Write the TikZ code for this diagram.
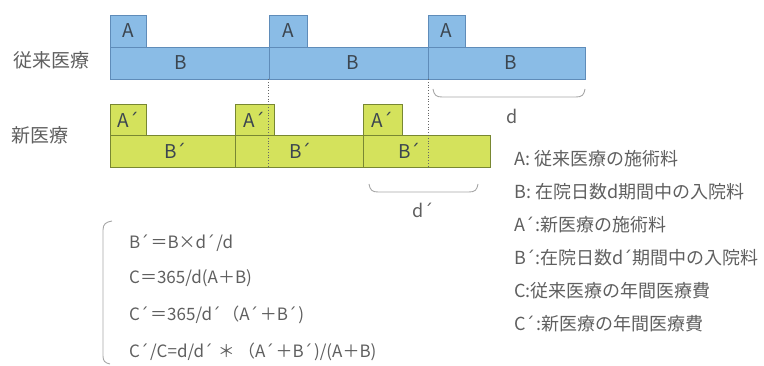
\documentclass[tikz,border=0pt]{standalone}
\usepackage{fontspec}
\setmainfont{Noto Sans CJK JP}
\newfontfamily\prf{DejaVu Sans}
\definecolor{bfill}{RGB}{138,188,230}
\definecolor{bdraw}{RGB}{95,140,185}
\definecolor{gfill}{RGB}{212,226,92}
\definecolor{gdraw}{RGB}{120,135,50}
\definecolor{txt}{RGB}{95,95,95}
\definecolor{boxtxt}{RGB}{60,70,80}
\newcommand\pr{{\prf ´}}
\newcommand\prs{{\prf ´}\hspace{0.1em}}
\begin{document}
\begin{tikzpicture}[x=1pt,y=-1pt,
  bluebox/.style={draw=bdraw,fill=bfill,line width=0.8pt,anchor=north west,inner sep=0pt,outer sep=0pt},
  greenbox/.style={draw=gdraw,fill=gfill,line width=0.8pt,anchor=north west,inner sep=0pt,outer sep=0pt},
  boxlbl/.style={text=boxtxt,font=\fontsize{19pt}{21pt}\selectfont,inner sep=0pt},
  rowlbl/.style={text=txt,font=\fontsize{19pt}{21pt}\selectfont,inner sep=0pt},
  legend/.style={text=txt,font=\fontsize{18pt}{20pt}\selectfont,anchor=west,inner sep=0pt},
  formula/.style={text=txt,font=\fontsize{17pt}{20pt}\selectfont,anchor=west,inner sep=0pt},
  dotline/.style={draw=gray!80!black,dotted,line width=0.8pt},
  bracel/.style={draw=gray!70,line width=0.9pt}]
\useasboundingbox (0,0) rectangle (764,366);
% blue row
\node[bluebox,minimum width=159pt,minimum height=32pt] (B1) at (110,47) {};
\node[bluebox,minimum width=159pt,minimum height=32pt] (B2) at (269,47) {};
\node[bluebox,minimum width=157pt,minimum height=32pt] (B3) at (428,47) {};
\node[bluebox,minimum width=36pt,minimum height=32pt] (A1) at (110,15) {};
\node[bluebox,minimum width=38pt,minimum height=32pt] (A2) at (269,15) {};
\node[bluebox,minimum width=37pt,minimum height=32pt] (A3) at (428,15) {};
\node[boxlbl] (tA1) at (A1.center) {A};
\node[boxlbl] (tA2) at (A2.center) {A};
\node[boxlbl] (tA3) at (A3.center) {A};
\node[boxlbl] (tB1) at (181,63) {B};
\node[boxlbl] (tB2) at (353,63) {B};
\node[boxlbl] (tB3) at (511,63) {B};
% green row
\node[greenbox,minimum width=125pt,minimum height=32pt] (Bp1) at (110,135) {};
\node[greenbox,minimum width=128pt,minimum height=32pt] (Bp2) at (235,135) {};
\node[greenbox,minimum width=127pt,minimum height=32pt] (Bp3) at (363,135) {};
\node[greenbox,minimum width=36pt,minimum height=31pt] (Ap1) at (110,104) {};
\node[greenbox,minimum width=39pt,minimum height=31pt] (Ap2) at (235,104) {};
\node[greenbox,minimum width=39pt,minimum height=31pt] (Ap3) at (363,104) {};
\node[boxlbl] (tAp1) at (128,120) {A\pr};
\node[boxlbl] (tAp2) at (254,120) {A\pr};
\node[boxlbl] (tAp3) at (382,120) {A\pr};
\node[boxlbl] (tBp1) at (175,151) {B\pr};
\node[boxlbl] (tBp2) at (300,151) {B\pr};
\node[boxlbl] (tBp3) at (409,151) {B\pr};
% dotted lines
\coordinate (d1t) at (268,79); \coordinate (d1b) at (268,167);
\coordinate (d2t) at (428,79); \coordinate (d2b) at (428,167);
\draw[dotline] (d1t) -- (d1b);
\draw[dotline] (d2t) -- (d2b);
% row labels
\node[rowlbl] (lab1) at (51,60) {従来医療};
\node[rowlbl] (lab2) at (40,135) {新医療};
% braces
\coordinate (br1l) at (433,89); \coordinate (br1r) at (585,89);
\draw[bracel] (br1l) .. controls (434,95) and (436,97) .. (442,97) -- (576,97) .. controls (582,97) and (584,95) .. (br1r);
\node[text=txt,font=\fontsize{18pt}{20pt}\selectfont,inner sep=0pt] (dlab) at (512,116) {d};
\coordinate (br2l) at (369,184); \coordinate (br2r) at (478,184);
\draw[bracel] (br2l) .. controls (370,190) and (372,192) .. (378,192) -- (469,192) .. controls (475,192) and (477,190) .. (br2r);
\node[text=txt,font=\fontsize{18pt}{20pt}\selectfont,inner sep=0pt] (dplab) at (423,210) {d\pr};
% legend
\node[legend] (L1) at (514,159) {A: 従来医療の施術料};
\node[legend] (L2) at (514,192) {B: 在院日数d期間中の入院料};
\node[legend] (L3) at (514,225) {A\prs:新医療の施術料};
\node[legend] (L4) at (514,258) {B\pr:在院日数d\pr 期間中の入院料};
\node[legend] (L5) at (514,291) {C:従来医療の年間医療費};
\node[legend] (L6) at (514,324) {C\prs:新医療の年間医療費};
% formula bracket
\coordinate (fbt) at (112,221); \coordinate (fbb) at (110,364);
\draw[bracel] (fbt) .. controls (106,222) and (103,224) .. (103,230) -- (103,356) .. controls (103,361) and (105,363) .. (fbb);
\node[formula] (F1) at (129,243) {B\prs＝B×d\prs/d};
\node[formula] (F2) at (129,278) {C＝365/d(A＋B)};
\node[formula] (F3) at (129,315) {C\prs＝365/d\prs（A\prs＋B\prs)};
\node[formula] (F4) at (129,352) {C\prs/C=d/d\prs\hspace{0.2em}＊\hspace{0.2em}（A\prs＋B\prs)/(A＋B)};
\end{tikzpicture}
\end{document}
